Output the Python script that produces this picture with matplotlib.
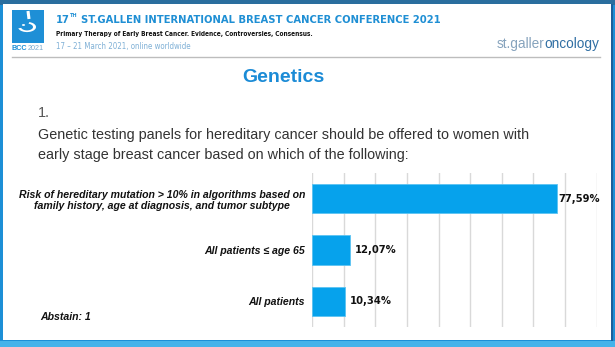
import matplotlib
matplotlib.use("Agg")
import matplotlib.pyplot as plt
from matplotlib import font_manager as fm
from matplotlib.font_manager import FontProperties
from matplotlib.patches import Rectangle, Circle, Wedge

# ---- data ----
categories = ["Risk of hereditary mutation > 10% in algorithms based on\nfamily history, age at diagnosis, and tumor subtype",
              "All patients \u2264 age 65",
              "All patients"]
values = [77.59, 12.07, 10.34]
xticks = [0, 10, 20, 30, 40, 50, 60, 70, 80, 90]

W, H = 615, 347
fig = plt.figure(figsize=(W / 100, H / 100), dpi=100)
fig.patch.set_facecolor("#1d8fd6")
renderer = fig.canvas.get_renderer()


def fx(x):
    return x / W


def fy(y):
    return 1 - y / H


def rect_px(x0, y0, x1, y1, **kw):
    r = Rectangle((fx(x0), fy(y1)), fx(x1) - fx(x0), fy(y0) - fy(y1),
                  transform=fig.transFigure, **kw)
    fig.add_artist(r)
    return r


def find_condensed(bold):
    order = {"ultra-condensed": 0, "extra-condensed": 1, "condensed": 2, "semi-condensed": 3}
    best = None
    for f in fm.fontManager.ttflist:
        st = f.stretch if isinstance(f.stretch, str) else ""
        nm = f.name + " " + f.fname
        narrow = ("Narrow" in nm) or ("Condensed" in nm) or (st in order)
        if not narrow or f.style != "normal":
            continue
        w = f.weight if isinstance(f.weight, int) else (700 if "bold" in str(f.weight) else 400)
        if bold and w < 600:
            continue
        if not bold and w >= 600:
            continue
        rank = order.get(st, 2)
        if "Narrow" in nm:
            rank = 2
        if best is None or rank < best[0]:
            best = (rank, f.fname)
    return best[1] if best else None


cb = find_condensed(True)
cr = find_condensed(False)
fp_cb = FontProperties(fname=cb) if cb else FontProperties(family="Liberation Sans", weight="bold")
fp_cr = FontProperties(fname=cr) if cr else FontProperties(family="Liberation Sans")


def width(t):
    return t.get_window_extent(renderer).width


def fit(t, target_w, max_size):
    t.set_fontsize(max_size)
    w = width(t)
    if w > target_w:
        t.set_fontsize(max_size * target_w / w)
    return t


# slide frame
rect_px(0, 0, W, 5, facecolor="#2a6e9e", edgecolor="none")
rect_px(0, 341, W, H, facecolor="#45b3ea", edgecolor="none")
rect_px(3, 4, 611, 340, facecolor="white", edgecolor="none")
rect_px(611, 4, 613, 341, facecolor="#1b5f9a", edgecolor="none")

# logo
rect_px(12, 10, 44, 43, facecolor="#1e8fd6", edgecolor="none")
fig.add_artist(Wedge((fx(27), fy(27)), fx(9), 195, 75, width=fx(3),
                     transform=fig.transFigure, facecolor="white", edgecolor="none"))
fig.add_artist(plt.Line2D([fx(28), fx(29)], [fy(11), fy(19)], transform=fig.transFigure,
                          color="white", lw=2.2, solid_capstyle="butt"))
fig.add_artist(Circle((fx(23.5), fy(25)), fx(1.6), transform=fig.transFigure,
                      facecolor="white", edgecolor="none"))
fig.text(fx(11), fy(49), "BCC", fontsize=5.2, fontweight="bold", color="#1e8fd6",
         family="Liberation Sans", va="center", ha="left")
fig.text(fx(28), fy(49), "2021", fontsize=5.2, color="#7aa9cf",
         family="Liberation Sans", va="center", ha="left")

# header text
tcol = "#1f8fd4"
rest = fig.text(fx(0), fy(20), "ST.GALLEN INTERNATIONAL BREAST CANCER CONFERENCE 2021",
                fontproperties=fp_cb, color=tcol, va="center", ha="left")
t17 = fig.text(fx(56), fy(20), "17", fontproperties=fp_cb, color=tcol, va="center", ha="left")
tth = fig.text(fx(0), fy(15.5), "TH", fontproperties=fp_cb, color=tcol, va="center", ha="left")
# fit whole title into 56..439 px
size = 16.0
for _ in range(3):
    rest.set_fontsize(size)
    t17.set_fontsize(size)
    tth.set_fontsize(size * 0.5)
    total = width(t17) + width(tth) + 3 + width(rest)
    size = size * 383 / total
rest.set_fontsize(size)
t17.set_fontsize(size)
tth.set_fontsize(size * 0.5)
x = 56 + width(t17) + 0.5
tth.set_position((fx(x), fy(15.5)))
x += width(tth) + 3
rest.set_position((fx(x), fy(20)))

t = fig.text(fx(56), fy(34), "Primary Therapy of Early Breast Cancer. Evidence, Controversies, Consensus.",
             fontproperties=fp_cb, color="#111111", va="center", ha="left")
fit(t, 257, 7.5)
t = fig.text(fx(56), fy(47), "17 \u2013 21 March 2021, online worldwide",
             fontproperties=fp_cr, color="#7fb0d6", va="center", ha="left")
fit(t, 134, 7.5)
ts = fig.text(fx(497), fy(44), "st.galler", fontsize=9.8, color="#86a3bd",
              family="Liberation Sans", va="center", ha="left")
fig.text(fx(497 + width(ts)), fy(44), "oncology", fontsize=9.8, color="#2f6ea3",
         family="Liberation Sans", va="center", ha="left")
fig.add_artist(plt.Line2D([fx(12), fx(600)], [fy(57), fy(57)], transform=fig.transFigure,
                          color="#bdbdbd", lw=1))

# slide title & question
fig.text(fx(283), fy(77), "Genetics", fontsize=14, fontweight="bold", color="#1b8bd6",
         family="Liberation Sans", va="center", ha="center")
fig.text(fx(38), fy(113), "1.", fontsize=10.4, color="#555555",
         family="Liberation Sans", va="center", ha="left")
fig.text(fx(38), fy(135), "Genetic testing panels for hereditary cancer should be offered to women with",
         fontsize=10.4, color="#333333", family="Liberation Sans", va="center", ha="left")
fig.text(fx(38), fy(155), "early stage breast cancer based on which of the following:",
         fontsize=10.4, color="#333333", family="Liberation Sans", va="center", ha="left")

# chart box
rect_px(13, 165, 603, 333, facecolor="white", edgecolor="#dcdcdc", lw=1.2, zorder=0.5)

# bar axes
ax_l, ax_r, ax_t, ax_b = 312, 596.7, 173.3, 326.7
ax = fig.add_axes([fx(ax_l), fy(ax_b), fx(ax_r) - fx(ax_l), (ax_b - ax_t) / H])
ax.set_zorder(2)
ax.set_facecolor("none")
ypos = list(range(len(categories)))
ax.barh(ypos, values, height=0.57, color="#06a2ec", edgecolor="#5cc3f2", lw=0.6, zorder=3)
ax.set_xlim(0, 90)
ax.set_ylim(len(categories) - 0.5, -0.5)
ax.set_xticks(xticks)
ax.xaxis.grid(True, color="#d9d9d9", lw=1.0, zorder=0)
ax.tick_params(axis="x", length=0, labelbottom=False)
ax.set_yticks(ypos)
ax.set_yticklabels(categories, fontsize=7.6, fontweight="bold", fontstyle="italic",
                   family="Liberation Sans", color="#111111")
for lab in ax.get_yticklabels():
    lab.set_multialignment("center")
    lab.set_linespacing(1.2)
ax.tick_params(axis="y", length=0, pad=5)
for s in ax.spines.values():
    s.set_visible(False)

for i, v in enumerate(values):
    off = 1 if v > 70 else 3.5
    ax.annotate(f"{v:.2f}".replace(".", ",") + "%", (v, i), xytext=(off, 0),
                textcoords="offset points", va="center", ha="left", annotation_clip=False,
                fontsize=7.2, fontweight="bold", family="DejaVu Sans", color="#111111")

fig.text(fx(40), fy(317), "Abstain: 1", fontsize=7.6, fontweight="bold", fontstyle="italic",
         family="Liberation Sans", color="#111111", va="center", ha="left")

fig.savefig("out.png", dpi=100, facecolor=fig.get_facecolor())
